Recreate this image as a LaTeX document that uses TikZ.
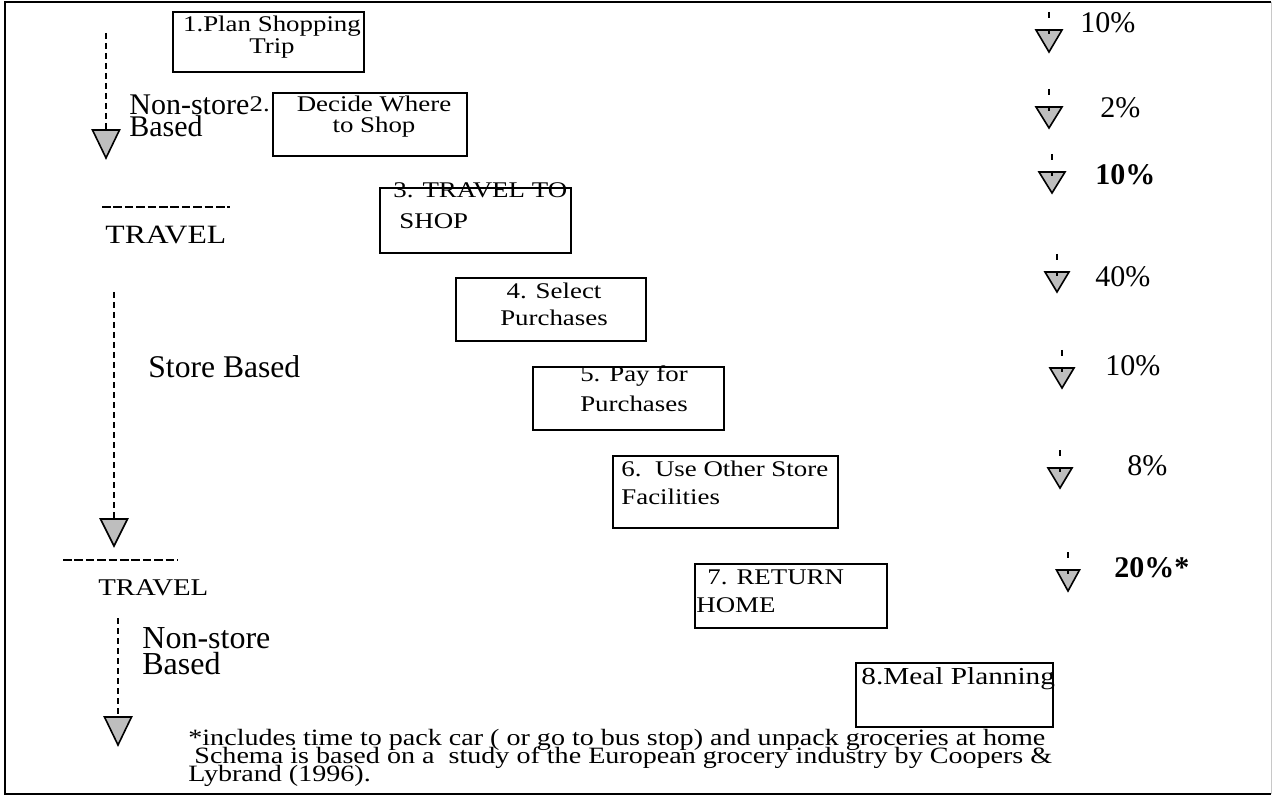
\documentclass[tikz,border=0pt]{standalone}
\usepackage{fontspec}
\setmainfont{Liberation Serif}
\newfontfamily\stepfont[FakeStretch=1.2]{Liberation Serif}
\usepackage{tikz}
\usetikzlibrary{
    calc,
    fit,
}
\usepackage{xcolor}
\definecolor{trigrey}{HTML}{BEBEBE}
\definecolor{edgegrey}{HTML}{C8C8C8}
\setlength{\lineskiplimit}{-20pt}

\begin{document}
\begin{tikzpicture}[
    x=0.5pt, y=-0.5pt,
    stepbox/.style  = {rectangle, draw, line width=0.6pt, inner sep=0pt},
    steptxt/.style  = {inner sep=0pt, align=center,
                       font=\stepfont\fontsize{11.2}{#1}\selectfont},
    steptxt/.default = 13.5,
    steptxtl/.style = {steptxt=#1, align=left},
    steptxtl/.default = 13.5,
    sidetxt/.style  = {inner sep=0pt, align=left,
                       font=\fontsize{15}{#1}\selectfont},
    sidetxt/.default = 11,
    trvtxt/.style   = {inner sep=0pt, font=\stepfont\fontsize{#1}{15}\selectfont},
    pcttxt/.style   = {inner sep=0pt, font=\fontsize{15}{15}\selectfont},
    notetxt/.style  = {inner sep=0pt, align=left,
                       font=\stepfont\fontsize{11.7}{9}\selectfont},
    flow/.style     = {line width=0.7pt, dash pattern=on 3pt off 2pt},
    tick/.style     = {line width=0.6pt, dash pattern=on 3pt off 5.5pt on 2.5pt off 5pt},
    sepline/.style  = {line width=0.9pt, dash pattern=on 4.3pt off 1.4pt},
    tri/.style      = {draw, fill=trigrey, line width=0.8pt, line join=miter},
]
\useasboundingbox (0,0) rectangle (1273,796);

%% -- frame --------------------------------------------------------------------
\draw[line width=1pt] (1271,2) -- (5,2) -- (5,794) -- (1271,794);
\draw[edgegrey, line width=0.5pt] (1271,2) -- (1271,794);

%% -- step boxes (staircase) ---------------------------------------------------
\node[stepbox, fit={(173,12)  (364,72)}]  (b1) {};
\node[stepbox, fit={(273,93)  (467,156)}] (b2) {};
\node[stepbox, fit={(380,188) (571,253)}] (b3) {};
\node[stepbox, fit={(456,278) (646,341)}] (b4) {};
\node[stepbox, fit={(533,367) (724,430)}] (b5) {};
\node[stepbox, fit={(613,456) (838,528)}] (b6) {};
\node[stepbox, fit={(695,564) (887,628)}] (b7) {};
\node[stepbox, fit={(856,663) (1053,727)}] (b8) {};

%% -- step texts ---------------------------------------------------------------
\node[steptxt=11,   anchor=north]      (s1) at (272,16)  {1.Plan Shopping\\Trip};
\node[steptxt=10.5, anchor=north]      (s2) at (374,96)
    {\llap{2.\hspace{13.5pt}}Decide Where\\to Shop};
\node[steptxtl=15.5, anchor=north west] (s3) at (393,182)
    {3. TRAVEL TO\\\hspace*{3pt}SHOP};
\node[steptxt=13.5, anchor=north]      (s4) at (554,283) {4. Select\\Purchases};
\node[steptxt=15,   anchor=north]      (s5) at (634,365) {5. Pay for\\Purchases};
\node[steptxtl=14,  anchor=north west] (s6) at (621,461)
    {6.\ \ Use Other Store\\Facilities};
\node[steptxtl=14,  anchor=north west] (s7) at (696,569)
    {\hspace*{5.5pt}7. RETURN\\HOME};
\node[steptxtl, anchor=north west, font=\stepfont\fontsize{12.2}{14}\selectfont]
    (s8) at (861,667) {8.Meal Planning};

%% -- left track labels --------------------------------------------------------
\node[sidetxt,    anchor=north west] (ns1) at (129,94)  {Non-store\\Based};
\node[trvtxt=13.2, anchor=base west] (trv1) at (105,244) {TRAVEL};
\node[sidetxt, anchor=base west, font=\fontsize{15.8}{15}\selectfont]
    (sb) at (148,378) {Store Based};
\node[trvtxt=12,  anchor=base west]  (trv2) at (98,595)  {TRAVEL};
\node[sidetxt=13, anchor=north west, font=\fontsize{16}{13}\selectfont]
    (ns2) at (142,627) {Non-store\\Based};

\draw[sepline] ($(trv1.base west)+(-3,-37)$) -- ++(128,0);
\draw[sepline] ($(trv2.base west)+(-35,-35)$) -- ++(115,0);

%% -- left dashed arrows -------------------------------------------------------
\coordinate (f1s) at (106,33);  \coordinate (f1) at (106,130);
\coordinate (f2s) at (114,292); \coordinate (f2) at (114,519);
\coordinate (f3s) at (118,618); \coordinate (f3) at (118,717);

\draw[flow] (f1s) -- (f1);
\draw[flow] (f2s) -- (f2);
\draw[flow] (f3s) -- (f3);
\draw[tri] (f1) ++(-13.5,0) -- ++(27,0) -- ++(-13.5,28) -- cycle;
\draw[tri] (f2) ++(-13.5,0) -- ++(27,0) -- ++(-13.5,27) -- cycle;
\draw[tri] (f3) ++(-13.5,0) -- ++(27,0) -- ++(-13.5,28) -- cycle;

%% -- right column: share of time ----------------------------------------------
\coordinate (p1) at (1049,30);  \coordinate (p1s) at (1049,12);
\coordinate (p2) at (1049,107); \coordinate (p2s) at (1049,89);
\coordinate (p3) at (1052,172); \coordinate (p3s) at (1052,154);
\coordinate (p4) at (1057,272); \coordinate (p4s) at (1057,254);
\coordinate (p5) at (1062,368); \coordinate (p5s) at (1062,350);
\coordinate (p6) at (1060,468); \coordinate (p6s) at (1060,450);
\coordinate (p7) at (1068,570); \coordinate (p7s) at (1068,552);

\draw[tri] (p1) ++(-13,0) -- ++(26,0) -- ++(-13,22) -- cycle;
\draw[tri] (p2) ++(-13,0) -- ++(26,0) -- ++(-13,21) -- cycle;
\draw[tri] (p3) ++(-13,0) -- ++(26,0) -- ++(-13,21) -- cycle;
\draw[tri] (p4) ++(-12,0) -- ++(24,0) -- ++(-12,20) -- cycle;
\draw[tri] (p5) ++(-12,0) -- ++(24,0) -- ++(-12,20) -- cycle;
\draw[tri] (p6) ++(-12,0) -- ++(24,0) -- ++(-12,20) -- cycle;
\draw[tri] (p7) ++(-11.5,0) -- ++(23,0) -- ++(-11.5,21) -- cycle;

\draw[tick] (p1s) -- ($(p1)+(0,4)$);
\draw[tick] (p2s) -- ($(p2)+(0,4)$);
\draw[tick] (p3s) -- ($(p3)+(0,4)$);
\draw[tick] (p4s) -- ($(p4)+(0,4)$);
\draw[tick] (p5s) -- ($(p5)+(0,4)$);
\draw[tick] (p6s) -- ($(p6)+(0,4)$);
\draw[tick] (p7s) -- ($(p7)+(0,4)$);

\node[pcttxt, anchor=base west] (v1) at (1080,33)  {10\%};
\node[pcttxt, anchor=base west] (v2) at (1100,118) {2\%};
\node[pcttxt, anchor=base west] (v3) at (1095,185) {\textbf{10\%}};
\node[pcttxt, anchor=base west] (v4) at (1095,287) {40\%};
\node[pcttxt, anchor=base west] (v5) at (1105,375) {10\%};
\node[pcttxt, anchor=base west] (v6) at (1127,475) {8\%};
\node[pcttxt, anchor=base west] (v7) at (1114,577) {\textbf{20\%*}};

%% -- footnote -----------------------------------------------------------------
\node[notetxt, anchor=north west] (note) at (188,729)
    {*includes time to pack car ( or go to bus stop) and unpack groceries at home\\
     \hspace*{3pt}Schema is based on a\ \ study of the European grocery industry by Coopers \&\\
     Lybrand (1996).};

\end{tikzpicture}
\end{document}
